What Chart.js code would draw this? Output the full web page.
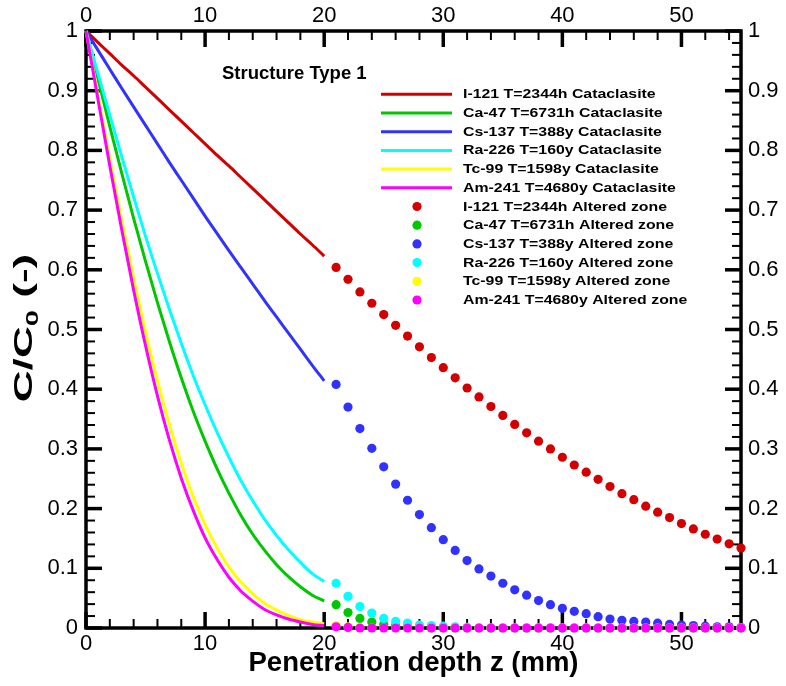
<!DOCTYPE html>
<html><head><meta charset="utf-8">
<script src="https://cdn.jsdelivr.net/npm/chart.js@4/dist/chart.umd.min.js"></script>
<style>html,body{margin:0;padding:0;background:#fff}</style>
</head><body>
<canvas id="c" width="786" height="686"></canvas>
<script>
// ---------- data ----------
const chartTitle = "Structure Type 1";
const xTitle = "Penetration depth z (mm)";
const xTicks = [0, 10, 20, 30, 40, 50];
const yTicks = [0, 0.1, 0.2, 0.3, 0.4, 0.5, 0.6, 0.7, 0.8, 0.9, 1];
const yTickLabels = ["0", "0.1", "0.2", "0.3", "0.4", "0.5", "0.6", "0.7", "0.8", "0.9", "1"];

const zLine = [0, 1, 2, 3, 4, 5, 6, 7, 8, 9, 10, 11, 12, 13, 14, 15, 16, 17, 18, 19, 20];
const zDots = [21, 22, 23, 24, 25, 26, 27, 28, 29, 30, 31, 32, 33, 34, 35, 36, 37, 38, 39, 40,
               41, 42, 43, 44, 45, 46, 47, 48, 49, 50, 51, 52, 53, 54, 55];

const seriesNames = ["I-121 T=2344h", "Ca-47 T=6731h", "Cs-137 T=388y", "Ra-226 T=160y", "Tc-99 T=1598y", "Am-241 T=4680y"];
const seriesColors = ["#d40000", "#00c800", "#3232ff", "#00ffff", "#ffff00", "#ff00ff"];

// Cataclasite (lines, z = 0..20)
const i121Cat  = [1, 0.981, 0.962, 0.943, 0.925, 0.906, 0.887, 0.868, 0.849, 0.830, 0.811, 0.792, 0.774, 0.755, 0.736, 0.717, 0.698, 0.679, 0.660, 0.642, 0.623];
const ca47Cat  = [1, 0.920, 0.840, 0.762, 0.686, 0.614, 0.545, 0.480, 0.419, 0.363, 0.313, 0.267, 0.226, 0.189, 0.157, 0.130, 0.106, 0.086, 0.069, 0.055, 0.045];
const cs137Cat = [1, 0.968, 0.936, 0.904, 0.873, 0.842, 0.811, 0.780, 0.750, 0.720, 0.690, 0.661, 0.632, 0.604, 0.576, 0.548, 0.521, 0.494, 0.467, 0.440, 0.414];
const ra226Cat = [1, 0.929, 0.859, 0.790, 0.722, 0.656, 0.594, 0.534, 0.477, 0.423, 0.374, 0.328, 0.286, 0.247, 0.213, 0.182, 0.155, 0.131, 0.110, 0.091, 0.078];
const tc99Cat  = [1, 0.892, 0.786, 0.683, 0.586, 0.496, 0.414, 0.341, 0.276, 0.220, 0.173, 0.134, 0.102, 0.077, 0.057, 0.041, 0.030, 0.021, 0.014, 0.010, 0.007];
const am241Cat = [1, 0.886, 0.774, 0.667, 0.566, 0.473, 0.389, 0.315, 0.251, 0.197, 0.151, 0.115, 0.085, 0.062, 0.045, 0.031, 0.022, 0.015, 0.010, 0.006, 0.004];

// Altered zone (dots, z = 21..55)
const i121Alt  = [0.604, 0.584, 0.563, 0.544, 0.525, 0.507, 0.489, 0.471, 0.453, 0.436, 0.419, 0.402, 0.387, 0.371, 0.356, 0.341, 0.327, 0.313, 0.300, 0.286,
                  0.273, 0.261, 0.249, 0.237, 0.225, 0.215, 0.204, 0.194, 0.185, 0.175, 0.166, 0.157, 0.149, 0.141, 0.134];
const ca47Alt  = [0.039, 0.026, 0.016, 0.010, 0.006, 0.004, 0.002, 0.001, 0, 0, 0, 0, 0, 0, 0, 0, 0, 0, 0, 0,
                  0, 0, 0, 0, 0, 0, 0, 0, 0, 0, 0, 0, 0, 0, 0];
const cs137Alt = [0.408, 0.370, 0.334, 0.301, 0.270, 0.241, 0.214, 0.190, 0.168, 0.148, 0.130, 0.113, 0.099, 0.087, 0.075, 0.064, 0.055, 0.046, 0.039, 0.033,
                  0.028, 0.024, 0.019, 0.015, 0.013, 0.011, 0.010, 0.008, 0.006, 0.005, 0.004, 0.003, 0.002, 0.002, 0.001];
const ra226Alt = [0.075, 0.053, 0.036, 0.025, 0.016, 0.011, 0.008, 0.005, 0.004, 0.003, 0.002, 0.001, 0, 0, 0, 0, 0, 0, 0, 0,
                  0, 0, 0, 0, 0, 0, 0, 0, 0, 0, 0, 0, 0, 0, 0];
const tc99Alt  = [0.004, 0.002, 0.001, 0, 0, 0, 0, 0, 0, 0, 0, 0, 0, 0, 0, 0, 0, 0, 0, 0,
                  0, 0, 0, 0, 0, 0, 0, 0, 0, 0, 0, 0, 0, 0, 0];
const am241Alt = [0.002, 0.001, 0, 0, 0, 0, 0, 0, 0, 0, 0, 0, 0, 0, 0, 0, 0, 0, 0, 0,
                  0, 0, 0, 0, 0, 0, 0, 0, 0, 0, 0, 0, 0, 0, 0];

const catSeries = [i121Cat, ca47Cat, cs137Cat, ra226Cat, tc99Cat, am241Cat];
const altSeries = [i121Alt, ca47Alt, cs137Alt, ra226Alt, tc99Alt, am241Alt];

// ---------- build datasets ----------
const toXY = (xs, ys) => xs.map((x, i) => ({x: x, y: ys[i]}));
const datasets = [];
catSeries.forEach((s, i) => datasets.push({
  label: seriesNames[i] + " Cataclasite",
  data: toXY(zLine, s),
  showLine: true, borderColor: seriesColors[i], backgroundColor: seriesColors[i],
  borderWidth: 3, pointRadius: 0, tension: 0.4, cubicInterpolationMode: 'monotone',
  order: 100 - i, clip: false
}));
altSeries.forEach((s, i) => datasets.push({
  label: seriesNames[i] + " Altered zone",
  data: toXY(zDots, s),
  showLine: false, borderColor: seriesColors[i], backgroundColor: seriesColors[i],
  borderWidth: 0, pointRadius: 4.6, pointHoverRadius: 4.6,
  order: 50 - i, clip: false
}));

const FONT = '"Liberation Sans", Arial, sans-serif';
const tickFont = {family: FONT, size: 22};

// frame + inward ticks
const framePlugin = {
  id: 'frame',
  beforeDatasetsDraw(chart) {
    const {ctx, chartArea: a, scales} = chart;
    const xs = scales.x, ys = scales.y;
    ctx.save();
    ctx.strokeStyle = '#000';
    ctx.lineCap = 'butt';
    const tick = (x1, y1, x2, y2, w) => { ctx.lineWidth = w; ctx.beginPath(); ctx.moveTo(x1, y1); ctx.lineTo(x2, y2); ctx.stroke(); };
    for (let v = 0; v <= 55; v += 2) {
      if (v % 10 === 0) continue;
      const px = xs.getPixelForValue(v);
      tick(px, a.bottom, px, a.bottom - 9, 2);
      tick(px, a.top, px, a.top + 9, 2);
    }
    xTicks.forEach(v => {
      const px = xs.getPixelForValue(v);
      tick(px, a.bottom, px, a.bottom - 16, 3.5);
      tick(px, a.top, px, a.top + 16, 3.5);
    });
    for (let k = 0; k <= 50; k++) {
      if (k % 5 === 0) continue;
      const py = ys.getPixelForValue(k / 50);
      tick(a.left, py, a.left + 9, py, 2);
      tick(a.right, py, a.right - 9, py, 2);
    }
    yTicks.forEach(v => {
      const py = ys.getPixelForValue(v);
      tick(a.left, py, a.left + 16, py, 3.5);
      tick(a.right, py, a.right - 16, py, 3.5);
    });
    ctx.lineWidth = 3.5;
    ctx.strokeRect(a.left, a.top, a.right - a.left, a.bottom - a.top);
    ctx.restore();
  }
};

// titles + legend
const textPlugin = {
  id: 'texts',
  afterDraw(chart) {
    const {ctx, chartArea: a} = chart;
    ctx.save();
    ctx.fillStyle = '#000';
    // x title
    ctx.font = 'bold 27.5px ' + FONT;
    ctx.textAlign = 'center';
    ctx.textBaseline = 'middle';
    ctx.fillText(xTitle, (a.left + a.right) / 2, 663);
    // y title with subscript
    ctx.translate(23, 328);
    ctx.rotate(-Math.PI / 2);
    ctx.scale(1.7, 1);
    const bigF = 'bold 26px ' + FONT, smallF = 'bold 17px ' + FONT;
    ctx.font = bigF; const w1 = ctx.measureText('C/C').width; const w3 = ctx.measureText(' (-)').width;
    ctx.font = smallF; const w2 = ctx.measureText('0').width;
    let x0 = -(w1 + w2 + w3) / 2;
    ctx.textAlign = 'left'; ctx.textBaseline = 'alphabetic';
    ctx.font = bigF; ctx.fillText('C/C', x0, 9);
    ctx.font = smallF; ctx.fillText('0', x0 + w1, 15);
    ctx.font = bigF; ctx.fillText(' (-)', x0 + w1 + w2, 9);
    ctx.restore();

    // legend
    ctx.save();
    ctx.fillStyle = '#000';
    ctx.font = 'bold 18.5px ' + FONT;
    ctx.textAlign = 'left';
    ctx.textBaseline = 'middle';
    ctx.fillText(chartTitle, 222, 74);
    ctx.font = 'bold 13px ' + FONT;
    chart.data.datasets.forEach((ds, i) => {
      const y = 94.3 + i * 18.7;
      if (ds.showLine) {
        ctx.strokeStyle = ds.borderColor; ctx.lineWidth = 3;
        ctx.beginPath(); ctx.moveTo(381, y); ctx.lineTo(452, y); ctx.stroke();
      } else {
        ctx.fillStyle = ds.backgroundColor;
        ctx.beginPath(); ctx.arc(417, y, 4.6, 0, Math.PI * 2); ctx.fill();
      }
      ctx.fillStyle = '#000';
      ctx.save();
      ctx.translate(463, y + 0.5);
      ctx.scale(1.22, 1);
      ctx.fillText(ds.label, 0, 0);
      ctx.restore();
    });
    ctx.restore();
  }
};

const commonTicks = {font: tickFont, color: '#000', maxRotation: 0, autoSkip: false};

new Chart(document.getElementById('c'), {
  type: 'scatter',
  data: {datasets: datasets},
  options: {
    responsive: false, animation: false, devicePixelRatio: 1,
    layout: {padding: 0},
    plugins: {legend: {display: false}, tooltip: {enabled: false}},
    scales: {
      x: {type: 'linear', position: 'bottom', min: 0, max: 55,
          afterBuildTicks: s => { s.ticks = xTicks.map(v => ({value: v})); },
          ticks: Object.assign({padding: 3, callback: v => String(v)}, commonTicks),
          grid: {display: false, drawTicks: false}, border: {display: false},
          afterFit: s => { s.height = 58; }},
      x2: {type: 'linear', position: 'top', min: 0, max: 55,
          afterBuildTicks: s => { s.ticks = xTicks.map(v => ({value: v})); },
          ticks: Object.assign({padding: 2, callback: v => String(v)}, commonTicks),
          grid: {display: false, drawTicks: false}, border: {display: false},
          afterFit: s => { s.height = 31; }},
      y: {type: 'linear', position: 'left', min: 0, max: 1,
          afterBuildTicks: s => { s.ticks = yTicks.map(v => ({value: v})); },
          ticks: Object.assign({padding: 8, callback: (v, i) => yTickLabels[i]}, commonTicks),
          grid: {display: false, drawTicks: false}, border: {display: false},
          afterFit: s => { s.width = 86; }},
      y2: {type: 'linear', position: 'right', min: 0, max: 1,
          afterBuildTicks: s => { s.ticks = yTicks.map(v => ({value: v})); },
          ticks: Object.assign({padding: 7, callback: (v, i) => yTickLabels[i]}, commonTicks),
          grid: {display: false, drawTicks: false}, border: {display: false},
          afterFit: s => { s.width = 45; }}
    }
  },
  plugins: [framePlugin, textPlugin]
});
</script>
</body></html>
